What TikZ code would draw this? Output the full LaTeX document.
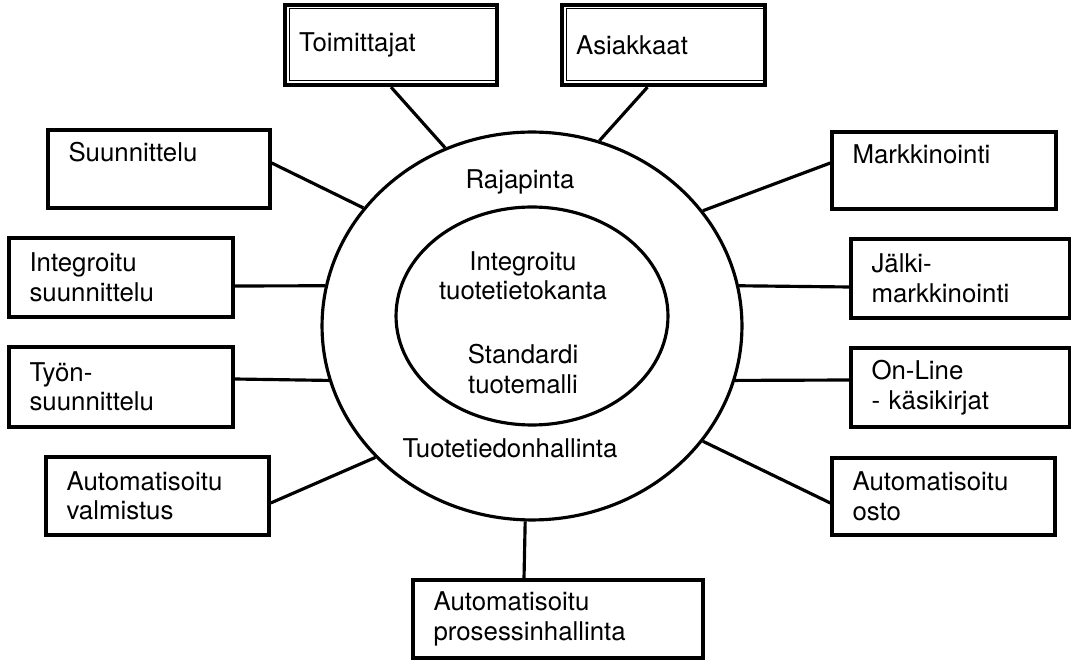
\documentclass[tikz,border=0pt]{standalone}
\usepackage{fontspec}
\setmainfont{TeX Gyre Heros}
\usetikzlibrary{shapes.geometric}

\tikzstyle{bx} = [draw, rectangle, line width=2pt, inner xsep=0.41cm, inner ysep=0pt, align=left]
\tikzstyle{dbx} = [bx, line width=2.4pt, inner xsep=0.28cm]
\tikzstyle{hi} = [text depth=19pt]
\tikzstyle{el} = [draw, ellipse, line width=1.8pt, inner sep=0pt]
\tikzstyle{ln} = [line width=1.8pt]
\tikzstyle{every node}=[font=\fontsize{14.7pt}{16.8pt}\selectfont]

\begin{document}
\begin{tikzpicture}[x=0.02cm, y=-0.02cm]
  \useasboundingbox (0,0) rectangle (1071,661);
  % core
  \node[el, minimum width=8.4cm, minimum height=7.76cm] (outer) at (532,326) {};
  \node[el, minimum width=5.44cm, minimum height=4.36cm] (inner) at (532,316) {};
  \node (raja) at (520,182) {Rajapinta};
  \node[align=center] (kanta) at (523,276) {Integroitu\\tuotetietokanta};
  \node[align=center] (malli) at (523,369) {Standardi\\tuotemalli};
  \node (hall) at (510,448) {Tuotetiedonhallinta};

  % top
  \node[dbx, text width=3.68cm, minimum height=1.6cm] (toim) at (391,45) {Toimittajat};
  \node[dbx, text width=3.50cm, minimum height=1.6cm] (asia) at (663.5,45) {Asiakkaat};
  \draw ([shift={(0.12cm,-0.1cm)}]toim.north west) rectangle ([shift={(-0.08cm,0.13cm)}]toim.south east);
  \draw ([shift={(0.12cm,-0.1cm)}]asia.north west) rectangle ([shift={(-0.08cm,0.13cm)}]asia.south east);

  % left
  \node[bx, hi, text width=3.62cm, minimum height=1.56cm] (suun) at (159,169) {Suunnittelu};
  \node[bx, text width=3.66cm, minimum height=1.58cm] (intsuun) at (121,277.5) {Integroitu\\suunnittelu};
  \node[bx, text width=3.66cm, minimum height=1.6cm] (tyon) at (121,387) {Työn-\\suunnittelu};
  \node[bx, text width=3.64cm, minimum height=1.56cm] (autoval) at (157.5,496) {Automatisoitu\\valmistus};

  % right
  \node[bx, hi, text width=3.66cm, minimum height=1.54cm] (mark) at (944,170.5) {Markkinointi};
  \node[bx, text width=3.56cm, minimum height=1.58cm] (jalki) at (960.5,278.5) {Jälki-\\markkinointi};
  \node[bx, text width=3.56cm, minimum height=1.58cm] (online) at (960.5,387.5) {On-Line\\- käsikirjat};
  \node[bx, text width=3.64cm, minimum height=1.54cm] (autoosto) at (943.5,496.5) {Automatisoitu\\osto};

  % bottom
  \node[bx, text width=4.98cm, minimum height=1.56cm] (proc) at (558,619) {Automatisoitu\\prosessinhallinta};

  \draw[ln] (toim.south) -- (outer.116);
  \draw[ln] ([xshift=-0.32cm]asia.south) -- (outer.70);
  \draw[ln] ([yshift=0.12cm]suun.east) -- (outer.145);
  \draw[ln] ([yshift=-0.17cm]intsuun.east) -- (outer.169);
  \draw[ln] ([yshift=0.16cm]tyon.east) -- (outer.195);
  \draw[ln] ([yshift=-0.14cm]autoval.east) -- (outer.220);
  \draw[ln] ([yshift=0.15cm]mark.west) -- (outer.34);
  \draw[ln] ([yshift=-0.17cm]jalki.west) -- (outer.11);
  \draw[ln] ([yshift=0.15cm]online.west) -- (outer.345);
  \draw[ln] ([yshift=-0.13cm]autoosto.west) -- (outer.326);
  \draw[ln] ([xshift=-0.68cm]proc.north) -- (outer.268);
\end{tikzpicture}
\end{document}
